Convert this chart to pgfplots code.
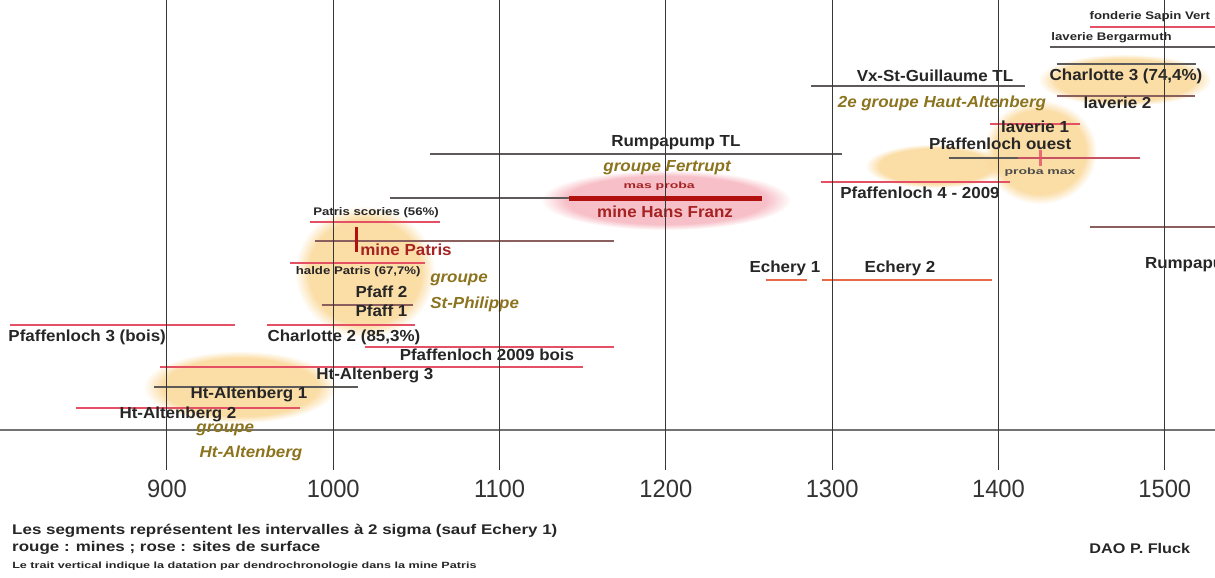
\documentclass[border=0pt]{standalone}
\usepackage{pgfplots}
\pgfplotsset{compat=1.18}
\usepackage{fontspec}
\setmainfont{Liberation Sans}
\usetikzlibrary{fadings}
\definecolor{segred}{RGB}{228,80,100}
\definecolor{seggray}{RGB}{95,90,90}
\definecolor{segbrown}{RGB}{140,95,95}
\definecolor{segorange}{RGB}{232,105,70}
\definecolor{labred}{RGB}{165,35,35}
\definecolor{grpcol}{RGB}{140,115,30}
\definecolor{glow}{RGB}{250,215,150}
\definecolor{pinkglow}{RGB}{245,175,185}
\definecolor{gridc}{RGB}{55,55,55}
\definecolor{hans}{RGB}{178,15,15}
\newcommand{\fs}[1]{\fontsize{#1}{#1}\selectfont}
\begin{document}
\begin{tikzpicture}
\begin{axis}[
  scale only axis, width=1215pt, height=470pt,
  xmin=799.58, xmax=1530.2, ymin=-470, ymax=0,
  axis line style={draw=none},
  xtick={900,1000,...,1500}, ytick=\empty,
  major tick length=0pt,
  xmajorgrids, grid style={gridc, line width=1pt},
  axis on top, clip=false,
  xticklabel style={font=\fs{25}, text=black!80, yshift=-6pt, xscale=0.95},
  /pgf/number format/assume math mode=true,
  /pgf/number format/1000 sep={},
]
% glows
\fill[glow, opacity=0.85, path fading=circle with fuzzy edge 20 percent] (axis cs:1476,-80) ellipse [x radius=52, y radius=26];
\fill[glow, opacity=0.85, path fading=circle with fuzzy edge 20 percent] (axis cs:1425,-152) ellipse [x radius=34, y radius=52];
\fill[glow, opacity=0.85, path fading=circle with fuzzy edge 20 percent] (axis cs:1362,-166) ellipse [x radius=42, y radius=22];
\fill[glow, opacity=0.85, path fading=circle with fuzzy edge 20 percent] (axis cs:1019,-272) ellipse [x radius=42, y radius=66];
\fill[glow, opacity=0.85, path fading=circle with fuzzy edge 20 percent] (axis cs:944,-387) ellipse [x radius=58, y radius=36];
\fill[pinkglow, opacity=0.8, path fading=circle with fuzzy edge 20 percent] (axis cs:1200,-200) ellipse [x radius=75, y radius=30];
% axis line
\addplot[color=black!55, line width=2pt] coordinates {(799.58,-430) (1530.2,-430)};
% gray segments
\addplot[seggray, line width=1.5pt] coordinates {(1431,-47) (1530,-47)};
\addplot[seggray, line width=1.5pt] coordinates {(1435,-64) (1519,-64)};
\addplot[segbrown, line width=1.5pt] coordinates {(1435,-96) (1518,-96)};
\addplot[seggray, line width=1.5pt] coordinates {(1287,-86) (1416,-86)};
\addplot[seggray, line width=1.5pt] coordinates {(1058,-154) (1306,-154)};
\addplot[seggray, line width=1.5pt] coordinates {(1034,-198) (1142,-198)};
\addplot[segbrown, line width=1.5pt] coordinates {(989,-241) (1169,-241)};
\addplot[segbrown, line width=1.5pt] coordinates {(993,-305) (1048,-305)};
\addplot[seggray, line width=1.5pt] coordinates {(892,-387) (1015,-387)};
\addplot[seggray, line width=1.5pt] coordinates {(1370,-158) (1485,-158)};
\addplot[segred, line width=1.5pt, opacity=0.8] coordinates {(1412,-158) (1485,-158)};
% red segments
\addplot[segred, line width=1.5pt] coordinates {(1455,-27) (1530,-27)};
\addplot[segred, line width=1.5pt] coordinates {(1395,-124) (1449,-124)};
\addplot[segred, line width=1.5pt] coordinates {(1293,-182) (1407,-182)};
\addplot[segred, line width=1.5pt] coordinates {(986,-222) (1064,-222)};
\addplot[segred, line width=1.5pt] coordinates {(974,-263) (1055,-263)};
\addplot[segred, line width=1.5pt] coordinates {(960,-325) (1049,-325)};
\addplot[segred, line width=1.5pt] coordinates {(805.6,-325) (941,-325)};
\addplot[segred, line width=1.5pt] coordinates {(1019,-347) (1169,-347)};
\addplot[segred, line width=1.5pt] coordinates {(896,-367) (1150,-367)};
\addplot[segred, line width=1.5pt] coordinates {(845,-408) (980,-408)};
\addplot[segbrown, line width=1.5pt] coordinates {(1455,-227) (1530,-227)};
\addplot[segorange, line width=2pt] coordinates {(1260,-280) (1285,-280)};
\addplot[segorange, line width=2pt] coordinates {(1294,-280) (1396,-280)};
% thick marks
\addplot[hans, line width=5pt] coordinates {(1142,-198) (1258,-198)};
\addplot[hans, line width=3.5pt] coordinates {(1014,-227) (1014,-252)};
\addplot[segred, line width=3pt, opacity=0.8] coordinates {(1425,-150) (1425,-166)};
% labels black bold
\begin{scope}[every node/.style={font=\fs{16}\bfseries, text=black!85, inner sep=0pt, xscale=1.06}]
\node at (axis cs:1361.8,-76) {Vx-St-Guillaume TL};
\node at (axis cs:1476.7,-76) {Charlotte 3 (74,4\%)};
\node[anchor=west] at (axis cs:1451,-103) {laverie 2};
\node at (axis cs:1422,-127) {laverie 1};
\node at (axis cs:1401,-144) {Pfaffenloch ouest};
\node at (axis cs:1352.8,-193) {Pfaffenloch 4 - 2009};
\node at (axis cs:1206,-143) {Rumpapump TL};
\node at (axis cs:1271.6,-268) {Echery 1};
\node at (axis cs:1340.8,-268) {Echery 2};
\node[anchor=west] at (axis cs:1488,-265) {Rumpapump};
\node at (axis cs:1029,-292) {Pfaff 2};
\node at (axis cs:1029,-311) {Pfaff 1};
\node at (axis cs:852,-337) {Pfaffenloch 3 (bois)};
\node at (axis cs:1006.4,-337) {Charlotte 2 (85,3\%)};
\node at (axis cs:1092.4,-355) {Pfaffenloch 2009 bois};
\node at (axis cs:1025,-375) {Ht-Altenberg 3};
\node at (axis cs:949.3,-394) {Ht-Altenberg 1};
\node at (axis cs:906.6,-414) {Ht-Altenberg 2};
\end{scope}
% small labels
\begin{scope}[every node/.style={font=\fs{11}\bfseries, text=black!85, inner sep=0pt, xscale=1.2}]
\node at (axis cs:1491,-17) {fonderie Sapin Vert};
\node at (axis cs:1468,-38) {laverie Bergarmuth};
\node at (axis cs:1025.7,-213) {Patris scories (56\%)};
\node at (axis cs:1015,-272) {halde Patris (67,7\%)};
\node[font=\fs{9}\bfseries, text=black!70, xscale=1.3] at (axis cs:1425,-172) {proba max};
\node[font=\fs{9}\bfseries, text=labred, xscale=1.3] at (axis cs:1196,-186) {mas proba};
\end{scope}
% red labels
\begin{scope}[every node/.style={font=\fs{16}\bfseries, text=labred, inner sep=0pt, xscale=1.06}]
\node at (axis cs:1199.5,-212) {mine Hans Franz};
\node at (axis cs:1043.7,-250) {mine Patris};
\end{scope}
% group labels
\begin{scope}[every node/.style={font=\fs{16}\bfseries\itshape, text=grpcol, inner sep=0pt, xscale=1.06}]
\node at (axis cs:1366,-103) {2e groupe Haut-Altenberg};
\node at (axis cs:1200.7,-168) {groupe Fertrupt};
\node at (axis cs:1075.6,-280) {groupe};
\node at (axis cs:1085,-304) {St-Philippe};
\node at (axis cs:935,-430) {groupe};
\node at (axis cs:950.5,-453) {Ht-Altenberg};
\end{scope}
% footer
\node[anchor=west, font=\fs{14}\bfseries, text=black!85, inner sep=0pt, xscale=1.21] at (axis cs:806.8,-531) {Les segments représentent les intervalles à 2 sigma (sauf Echery 1)};
\node[anchor=west, font=\fs{14}\bfseries, text=black!85, inner sep=0pt, xscale=1.21] at (axis cs:806.8,-548) {rouge : mines ; rose : sites de surface};
\node[anchor=west, font=\fs{9}\bfseries, text=black!85, inner sep=0pt, xscale=1.4] at (axis cs:806.8,-566) {Le trait vertical indique la datation par dendrochronologie dans la mine Patris};
\node[font=\fs{14}\bfseries, text=black!85, inner sep=0pt, xscale=1.16] at (axis cs:1485,-548) {DAO P. Fluck};
\coordinate (bl) at (axis cs:799.58,-577);
\coordinate (tr) at (axis cs:1530.2,0);
\end{axis}
\pgfresetboundingbox
\useasboundingbox (bl) rectangle (tr);
\end{tikzpicture}
\end{document}
